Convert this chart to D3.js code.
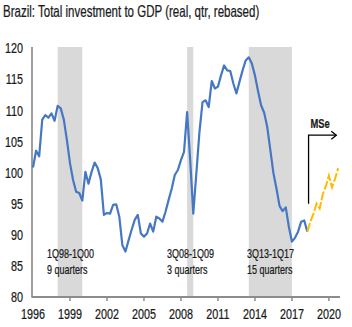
<!DOCTYPE html>
<html>
<head>
<meta charset="utf-8">
<script src="https://cdn.jsdelivr.net/npm/d3@7/dist/d3.min.js"></script>
<style>
  body { margin: 0; background: #fff; }
  svg { display: block; font-family: "Liberation Sans", Arial, sans-serif; }
</style>
</head>
<body>
<div id="chart"></div>
<script>
// quarterly, 1996Q1 .. 2018Q2 (actual)
var actualStart = 1996;
var actual = [
  100.8, 103.5, 102.6, 108.5,
  109.2, 108.8, 109.5, 108.3,
  110.7, 110.3, 108.5, 105.2,
  101.5, 98.8, 96.9, 96.7,
  95.5, 100.1, 98.2, 100.1,
  101.6, 100.7, 98.9, 93.2,
  93.5, 93.4, 94.8, 94.9,
  92.9, 88.3, 87.3, 89.1,
  90.8, 92.4, 93.2, 90.2,
  89.7, 90.2, 91.8, 90.5,
  92.9, 92.6, 92.1, 93.7,
  95.6, 97.4, 99.6, 100.4,
  102.0, 103.3, 109.7, 102.0,
  93.4, 99.9, 106.5, 111.3,
  111.6, 110.5, 114.7, 113.5,
  113.8, 115.6, 117.2, 116.4,
  116.3, 114.3, 112.7, 114.6,
  116.4, 118.0, 118.5, 117.5,
  115.6, 113.1, 110.8, 109.6,
  107.3, 103.6, 99.9, 97.4,
  94.6, 93.8, 94.4, 91.3,
  88.9, 89.5, 90.5, 92.1,
  92.3, 90.5
];
// MS estimates, 2018Q2 .. 2020Q4
var forecastStart = 2018.25;
var forecast = [90.5, 92.1, 93.4, 95.0, 94.2, 96.5, 97.8, 99.5, 97.6, 99.0, 100.7];

var recessions = [
  { from: 1998.0, to: 2000.0, label: "1Q98-1Q00", len: "9 quarters" },
  { from: 2008.5, to: 2009.0, label: "3Q08-1Q09", len: "3 quarters" },
  { from: 2013.5, to: 2017.0, label: "3Q13-1Q17", len: "15 quarters" }
];
var yTicks = [80, 85, 90, 95, 100, 105, 110, 115, 120];
var xTicks = [1996, 1999, 2002, 2005, 2008, 2011, 2014, 2017, 2020];
var title = "Brazil: Total investment to GDP (real, qtr, rebased)";

var width = 352, height = 327;
var sx = 0.72; // the picture is horizontally condensed

var svg = d3.select("#chart").append("svg")
    .attr("width", width)
    .attr("height", height);

var x = d3.scaleLinear().domain([1996, 2020.9]).range([33, 340]);
var y = d3.scaleLinear().domain([80, 120]).range([297, 48]);

function label(g, tx, ty, str, size, anchor, weight) {
    return g.append("text")
        .attr("transform", "translate(" + tx + "," + ty + ") scale(" + sx + ",1)")
        .attr("text-anchor", anchor || "start")
        .attr("font-size", size)
        .attr("font-weight", weight || "normal")
        .attr("fill", "#1a1a1a")
        .attr("stroke", "#1a1a1a")
        .attr("stroke-width", 0.25)
        .text(str);
}

// title
label(svg, 3, 17, title, 16);

// shaded periods
svg.append("g").selectAll("rect")
    .data(recessions)
    .enter().append("rect")
    .attr("x", function (d) { return x(d.from); })
    .attr("width", function (d) { return x(d.to) - x(d.from); })
    .attr("y", y(120) - 1)
    .attr("height", y(80) - y(120) + 1)
    .attr("fill", "#d9d9d9");

// axes
svg.append("line")
    .attr("x1", x(1996) - 1).attr("x2", x(1996) - 1)
    .attr("y1", y(120) - 1).attr("y2", y(80))
    .attr("stroke", "#7f7f7f").attr("stroke-width", 1.5);

svg.append("line")
    .attr("x1", x(1996) - 1.5).attr("x2", x.range()[1])
    .attr("y1", y(80)).attr("y2", y(80))
    .attr("stroke", "#8c8c8c").attr("stroke-width", 2);

svg.append("g").selectAll("line")
    .data(xTicks.slice(1))
    .enter().append("line")
    .attr("x1", function (d) { return x(d); })
    .attr("x2", function (d) { return x(d); })
    .attr("y1", y(80)).attr("y2", y(80) + 4)
    .attr("stroke", "#8c8c8c").attr("stroke-width", 1.5);

var yl = svg.append("g");
yTicks.forEach(function (t) {
    label(yl, 23, y(t) + 5.3, t, 15, "end");
});
var xl = svg.append("g");
xTicks.forEach(function (t) {
    label(xl, x(t), 319, t, 15, "middle");
});

// recession notes
var notes = svg.append("g");
var noteX = [47, 167, 247];
recessions.forEach(function (d, i) {
    label(notes, noteX[i], 258, d.label, 12.5);
    label(notes, noteX[i], 274, d.len, 12.5);
});

// lines
var line = d3.line()
    .x(function (d) { return x(d[0]); })
    .y(function (d) { return y(d[1]); });

var actualPts = actual.map(function (v, i) { return [actualStart + i * 0.25, v]; });
var forecastPts = forecast.map(function (v, i) { return [forecastStart + i * 0.25, v]; });

svg.append("path")
    .datum(actualPts)
    .attr("d", line)
    .attr("fill", "none")
    .attr("stroke", "#4677c2")
    .attr("stroke-width", 2.2)
    .attr("stroke-linejoin", "round");

svg.append("path")
    .datum(forecastPts)
    .attr("d", line)
    .attr("fill", "none")
    .attr("stroke", "#ffbb00")
    .attr("stroke-width", 2)
    .attr("stroke-dasharray", "9,2");

// MSe marker
var mx = x(2018.35);
svg.append("polyline")
    .attr("points", [[mx, y(95)], [mx, y(106)], [x(2020.6), y(106)]].join(" "))
    .attr("fill", "none")
    .attr("stroke", "#000")
    .attr("stroke-width", 1.3);
svg.append("polyline")
    .attr("points", [[x(2020.6) - 5, y(106) - 4], [x(2020.6), y(106)], [x(2020.6) - 5, y(106) + 4]].join(" "))
    .attr("fill", "none")
    .attr("stroke", "#000")
    .attr("stroke-width", 1.3);
label(svg, mx + 2, 127.5, "MSe", 13, "start", "bold");
</script>
</body>
</html>
